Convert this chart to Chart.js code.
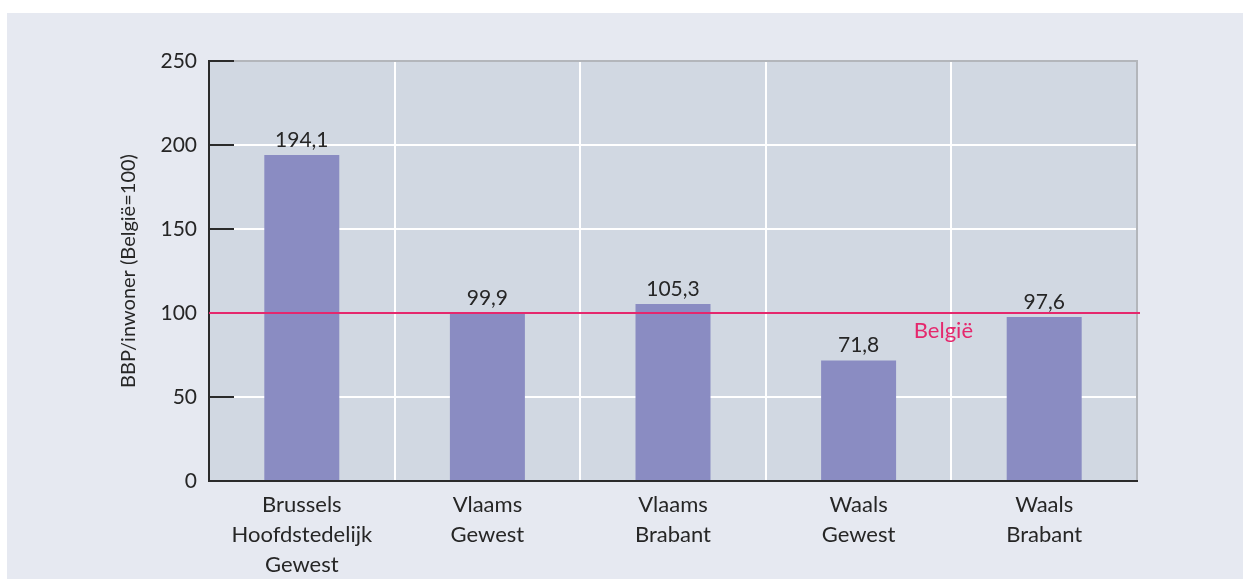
<!DOCTYPE html>
<html>
<head>
<meta charset="utf-8">
<script src="https://cdn.jsdelivr.net/npm/chart.js@4/dist/chart.umd.min.js"></script>
<style>
  html, body { margin: 0; padding: 0; background: #fff; }
  canvas { display: block; }
</style>
</head>
<body>
<canvas id="bbp" width="1244" height="579"></canvas>
<script>
"use strict"
var categories = [
    ['Brussels', 'Hoofdstedelijk', 'Gewest'],
    ['Vlaams', 'Gewest'],
    ['Vlaams', 'Brabant'],
    ['Waals', 'Gewest'],
    ['Waals', 'Brabant']
];
var values = [194.1, 99.9, 105.3, 71.8, 97.6];
var yTicks = [0, 50, 100, 150, 200, 250];
var referenceValue = 100;
var referenceLabel = 'België';
var yTitle = 'BBP/inwoner (België=100)';

var FONT = 'Lato, "Open Sans", sans-serif';
var PINK = '#e5286d';
var TEXT = '#262626';

function fmt(v) {
    return v.toFixed(1).replace('.', ',');
}

var decor = {
    id: 'decor',
    beforeDraw: function(chart) {
        var ctx = chart.ctx, a = chart.chartArea;
        ctx.save();
        ctx.fillStyle = '#ffffff';
        ctx.fillRect(0, 0, chart.width, chart.height);
        ctx.fillStyle = '#e6e9f1';
        ctx.fillRect(7, 13, chart.width - 8, chart.height - 13);
        ctx.fillStyle = '#d1d8e2';
        ctx.fillRect(a.left, a.top, a.right - a.left, a.bottom - a.top);
        ctx.restore();
    },
    afterDatasetsDraw: function(chart) {
        var ctx = chart.ctx, a = chart.chartArea;
        var y = chart.scales.y;
        var meta = chart.getDatasetMeta(0);
        ctx.save();
        // grey frame top / right
        ctx.strokeStyle = '#b3b6bb';
        ctx.lineWidth = 2;
        ctx.beginPath();
        ctx.moveTo(a.left, a.top);
        ctx.lineTo(a.right, a.top);
        ctx.lineTo(a.right, a.bottom);
        ctx.stroke();
        // inward tick marks
        ctx.strokeStyle = '#2b2b2b';
        yTicks.forEach(function(t) {
            var py = y.getPixelForValue(t);
            ctx.beginPath();
            ctx.moveTo(a.left, py);
            ctx.lineTo(a.left + 25, py);
            ctx.stroke();
        });
        // axes
        ctx.beginPath();
        ctx.moveTo(a.left, a.top - 1);
        ctx.lineTo(a.left, a.bottom);
        ctx.lineTo(a.right + 1, a.bottom);
        ctx.stroke();
        // reference line
        var ry = y.getPixelForValue(referenceValue);
        ctx.strokeStyle = PINK;
        ctx.lineWidth = 2;
        ctx.beginPath();
        ctx.moveTo(a.left, ry);
        ctx.lineTo(a.right + 3, ry);
        ctx.stroke();
        ctx.font = '22px ' + FONT;
        ctx.fillStyle = PINK;
        ctx.textAlign = 'center';
        ctx.textBaseline = 'alphabetic';
        var bx = (meta.data[3].x + meta.data[4].x) / 2 - 8;
        ctx.fillText(referenceLabel, bx, ry + 25);
        // value labels
        ctx.font = '21px ' + FONT;
        ctx.fillStyle = TEXT;
        meta.data.forEach(function(bar, i) {
            ctx.fillText(fmt(values[i]), bar.x, bar.y - 8);
        });
        ctx.restore();
    }
};

var ctx = document.getElementById('bbp');
var chart = new Chart(ctx, {
    type: 'bar',
    data: {
        labels: categories,
        datasets: [{
            data: values,
            backgroundColor: '#8a8cc2',
            borderWidth: 0,
            barPercentage: 0.404,
            categoryPercentage: 1
        }]
    },
    options: {
        responsive: false,
        animation: false,
        layout: {
            padding: { left: 0, top: 61, right: 107, bottom: 0 }
        },
        plugins: {
            legend: { display: false },
            tooltip: { enabled: false }
        },
        scales: {
            x: {
                border: { display: false },
                grid: {
                    offset: true,
                    drawTicks: false,
                    lineWidth: 2,
                    color: function(c) {
                        return (c.index > 0 && c.index < categories.length) ? '#ffffff' : 'rgba(0,0,0,0)';
                    }
                },
                ticks: {
                    padding: 9,
                    color: TEXT,
                    font: { family: FONT, size: 22, lineHeight: 1.36 }
                },
                afterFit: function(scale) { scale.height = 98; }
            },
            y: {
                min: 0,
                max: 250,
                border: { display: false },
                grid: {
                    drawTicks: false,
                    lineWidth: 2,
                    color: function(c) {
                        var v = c.tick ? c.tick.value : 0;
                        return (v > 0 && v < 250) ? '#ffffff' : 'rgba(0,0,0,0)';
                    }
                },
                afterBuildTicks: function(scale) {
                    scale.ticks = yTicks.map(function(v) { return { value: v }; });
                },
                ticks: {
                    padding: 12,
                    color: TEXT,
                    font: { family: FONT, size: 21 }
                },
                title: {
                    display: true,
                    text: yTitle,
                    color: TEXT,
                    padding: { top: 117, bottom: 0 },
                    font: { family: FONT, size: 20 }
                },
                afterFit: function(scale) { scale.width = 209; }
            }
        }
    },
    plugins: [decor]
});
</script>
</body>
</html>
